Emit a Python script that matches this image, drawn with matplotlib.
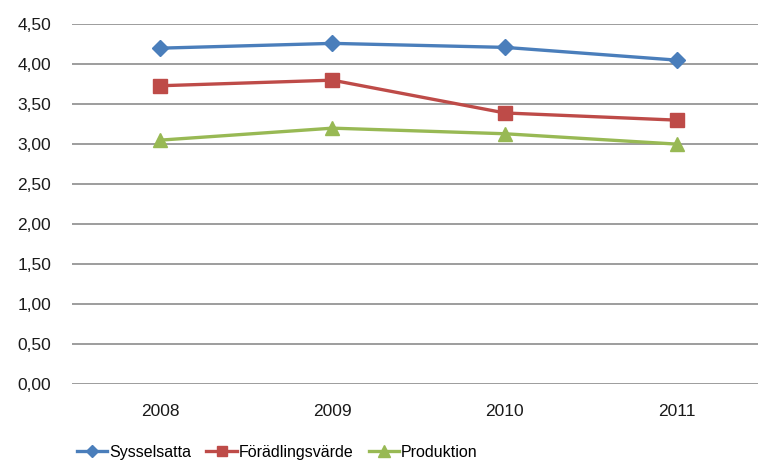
import matplotlib.pyplot as plt
from matplotlib.ticker import FuncFormatter

years = ["2008", "2009", "2010", "2011"]
sysselsatta = [4.20, 4.26, 4.21, 4.05]
foradling = [3.73, 3.80, 3.39, 3.30]
produktion = [3.05, 3.20, 3.13, 3.00]
y_ticks = [0.0, 0.5, 1.0, 1.5, 2.0, 2.5, 3.0, 3.5, 4.0, 4.5]

plt.rcParams["font.family"] = ["Liberation Sans", "DejaVu Sans"]

fig = plt.figure(figsize=(7.58, 4.65), dpi=100)
ax = fig.add_axes([0.095, 0.174, 0.91, 0.774])

x = range(len(years))
ax.plot(x, sysselsatta, color="#4A7EBB", lw=2.4, marker="D", ms=8, label="Sysselsatta")
ax.plot(x, foradling, color="#BE4B48", lw=2.4, marker="s", ms=9.5, label="Förädlingsvärde")
ax.plot(x, produktion, color="#98B954", lw=2.4, marker="^", ms=10, label="Produktion")

ax.set_ylim(0, 4.5)
ax.set_xlim(-0.51, 3.49)
ax.set_yticks(y_ticks)
ax.yaxis.set_major_formatter(FuncFormatter(lambda v, p: f"{v:.2f}".replace(".", ",")))
ax.set_xticks(list(x))
ax.set_xticklabels(years)
ax.grid(axis="y", color="#8C8C8C", lw=1.2)
ax.set_axisbelow(True)
for s in ax.spines.values():
    s.set_visible(False)
ax.tick_params(length=0, labelsize=12.5, colors="#1a1a1a")
ax.tick_params(axis="x", pad=14)
ax.tick_params(axis="y", pad=15)

# legend sits low and left, like the cropped Excel original
fig.legend(loc="center left", bbox_to_anchor=(77 / 758, 1 - 452 / 465), ncol=3, frameon=False,
           fontsize=11.5, handlelength=1.9, columnspacing=0.95, handletextpad=0.12,
           borderaxespad=0, borderpad=0, markerscale=0.8)

fig.savefig("out.png", dpi=100)
